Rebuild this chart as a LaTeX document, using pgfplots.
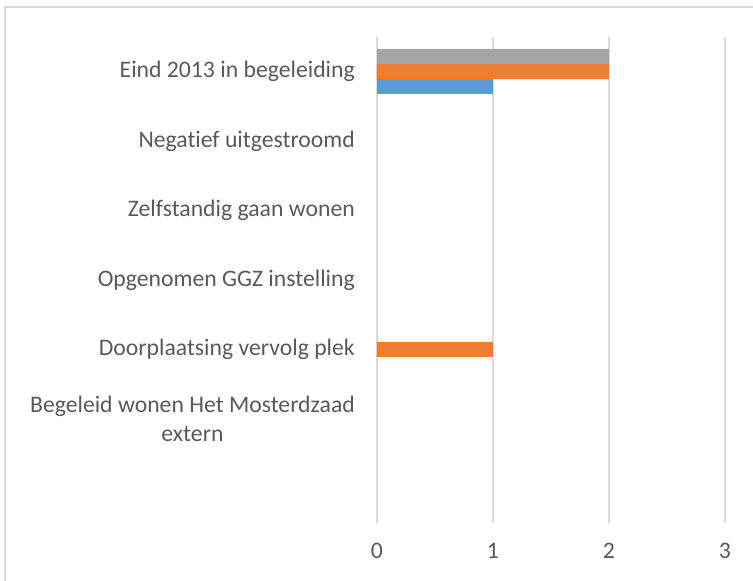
\documentclass[border=0pt]{standalone}
\usepackage{fontspec}
\setmainfont{Carlito}[RawFeature={-liga;-dlig}]
\usepackage{pgfplots}
\pgfplotsset{compat=1.18}
\definecolor{sA}{HTML}{5B9BD5}
\definecolor{sB}{HTML}{ED7D31}
\definecolor{sC}{HTML}{A5A5A5}
\definecolor{gridc}{HTML}{D9D9D9}
\definecolor{labc}{HTML}{595959}
\begin{document}
\begin{tikzpicture}
\begin{axis}[
  at={(0,0)}, anchor=south west,
  scale only axis, width=348bp, height=486bp,
  xmin=0, xmax=3, ymin=-0.5, ymax=6.5,
  axis line style={draw=none},
  xmajorgrids, grid style={color=gridc, line width=1.5bp},
  xtick={0,1,2,3}, xticklabels={0,1,2,3},
  ytick={0,1,2,3,4,5,6},
  yticklabels={{}, {Begeleid wonen Het Mosterdzaad\\extern}, {Doorplaatsing vervolg plek}, {Opgenomen GGZ instelling}, {Zelfstandig gaan wonen}, {Negatief uitgestroomd}, {Eind 2013 in begeleiding}},
  major tick length=0pt,
  tick style={draw=none},
  ticklabel style={font=\fontsize{23.7bp}{29bp}\selectfont, text=labc},
  yticklabel style={anchor=east, inner sep=0pt, xshift=-22bp, align=center},
  xticklabel style={anchor=north, inner sep=0pt, yshift=-20bp},
  clip=false,
]
% zero values are not drawn
\addplot[xbar, bar width=15bp, bar shift=-15bp, fill=sA, draw=none] coordinates {(1,6)};
\addplot[xbar, bar width=15bp, bar shift=0bp, fill=sB, draw=none] coordinates {(1,2) (2,6)};
\addplot[xbar, bar width=15bp, bar shift=15bp, fill=sC, draw=none] coordinates {(2,6)};
\end{axis}
\draw[color=gridc, line width=1.5bp] (-372bp,-70bp) -- (-372bp,516bp) -- (390bp,516bp);
\pgfresetboundingbox
\useasboundingbox (-377bp,-58bp) rectangle (376bp,523bp);
\end{tikzpicture}
\end{document}
